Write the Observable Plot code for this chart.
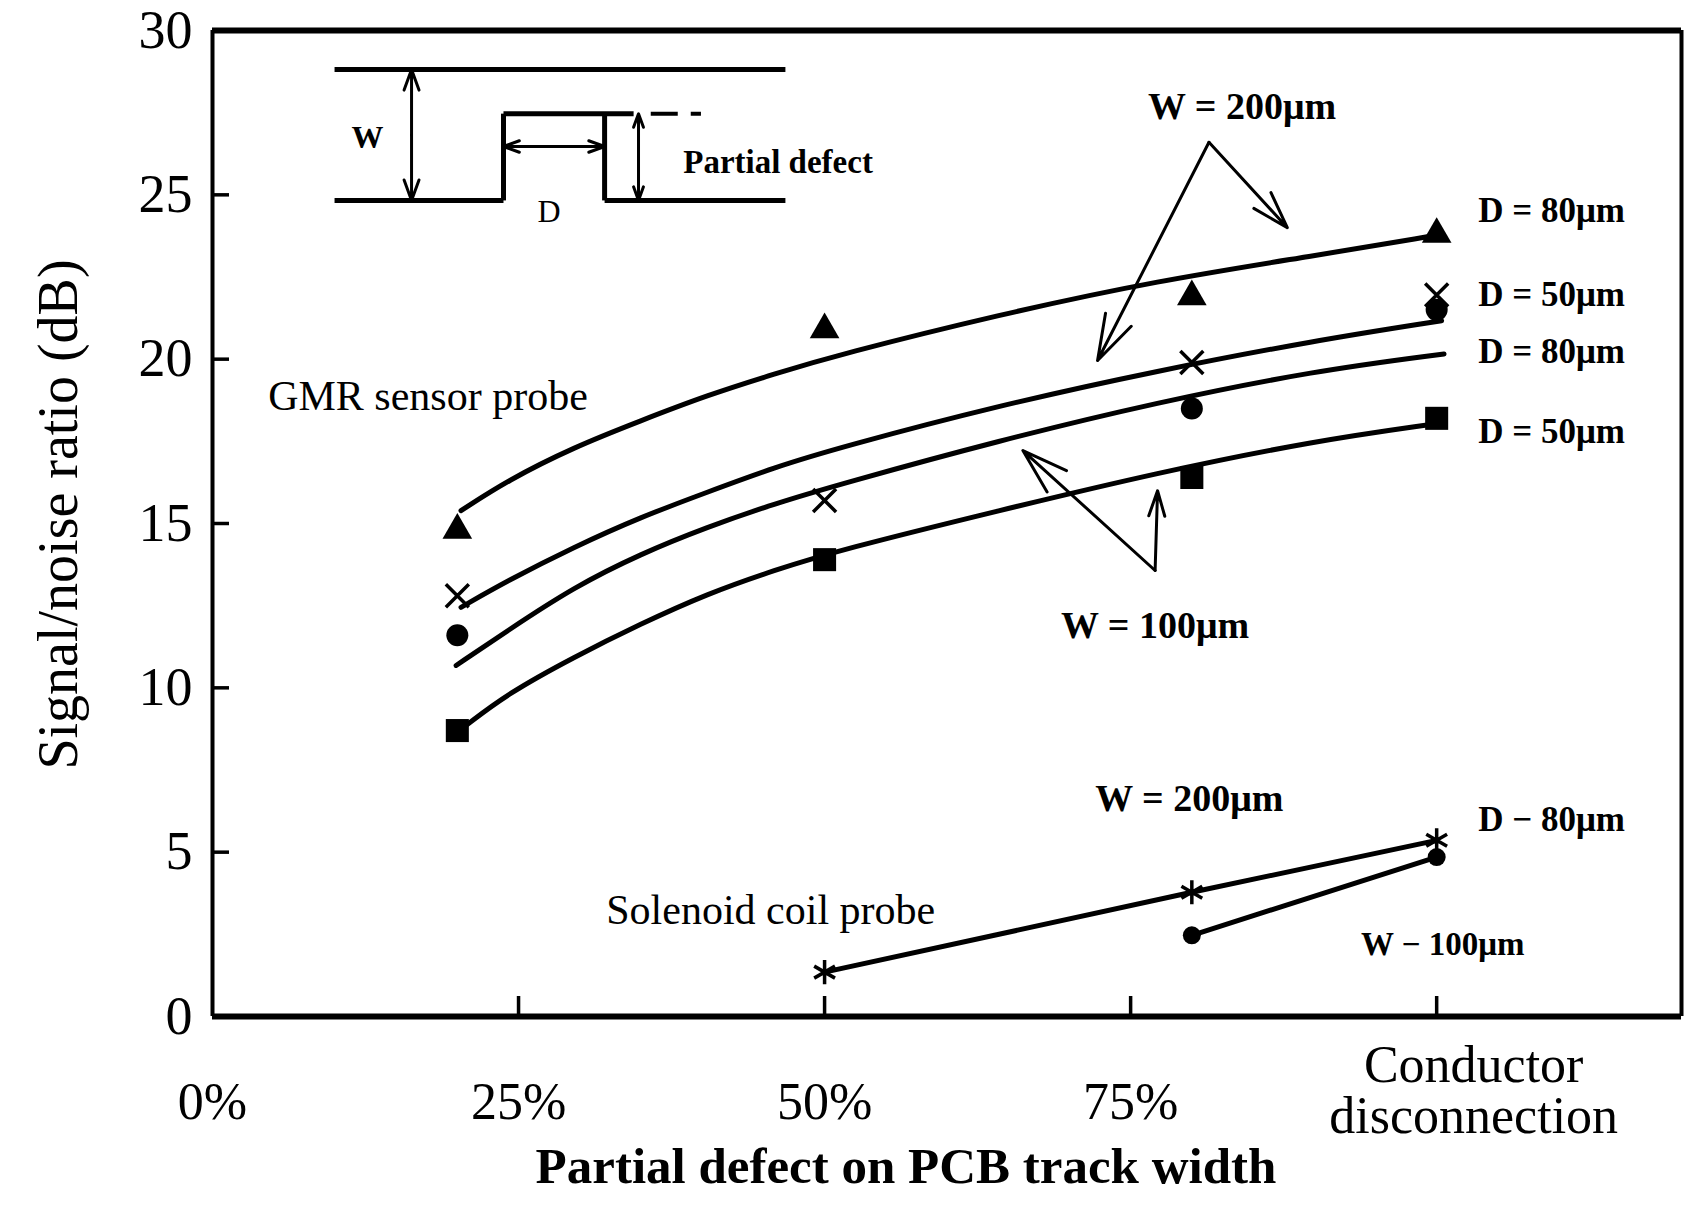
<!DOCTYPE html>
<html>
<head>
<meta charset="utf-8">
<script src="https://cdn.jsdelivr.net/npm/d3@7"></script>
<script src="https://cdn.jsdelivr.net/npm/@observablehq/plot@0.6"></script>
<style>
  html, body { margin: 0; padding: 0; background: #fff; }
  #chart svg { display: block; }
</style>
</head>
<body>
<div id="chart"></div>
<script>
// ---------- measured points (x = partial defect in % of track width, 100 = conductor disconnection) ----------
const gmrW200D80 = [ {x:20,y:14.8},{x:50,y:20.9},{x:80,y:21.9},{x:100,y:23.8} ];   // triangles
const gmrW200D50 = [ {x:20,y:12.8},{x:50,y:15.7},{x:80,y:19.9},{x:100,y:21.95} ];  // crosses
const gmrW100D80 = [ {x:20,y:11.6},{x:80,y:18.5},{x:100,y:21.5} ];                 // filled dots
const gmrW100D50 = [ {x:20,y:8.7},{x:50,y:13.9},{x:80,y:16.4},{x:100,y:18.2} ];    // squares
const coilW200   = [ {x:50,y:1.35},{x:80,y:3.78},{x:100,y:5.36} ];                 // asterisks
const coilW100   = [ {x:80,y:2.47},{x:100,y:4.85} ];                               // dots

// ---------- fitted curves ----------
const fitW200D80 = [[20.3,15.39],[24.1,16.31],[29.5,17.32],[35.0,18.13],[40.4,18.9],[45.9,19.55],[51.3,20.15],[64.2,21.35],[77.2,22.39],[90.1,23.15],[99.8,23.76]];
const fitW200D50 = [[20.3,12.45],[24.1,13.26],[29.5,14.28],[35.0,15.2],[40.4,15.95],[45.9,16.71],[51.3,17.32],[64.2,18.59],[77.2,19.65],[90.1,20.57],[100.4,21.17]];
const fitW100D80 = [[19.9,10.68],[24.1,11.74],[29.5,13.06],[35.0,14.08],[40.4,14.89],[45.9,15.6],[51.3,16.2],[64.2,17.52],[77.2,18.69],[90.1,19.65],[100.6,20.16]];
const fitW100D50 = [[20.7,8.85],[24.1,9.82],[29.5,10.93],[35.0,11.95],[40.4,12.86],[45.9,13.58],[51.3,14.2],[64.2,15.39],[77.2,16.55],[90.1,17.52],[99.8,18.03]];

// ---------- axes ----------
const xDomain = [0, 120];
const yDomain = [0, 30];
const yTickLabels = [0, 5, 10, 15, 20, 25, 30];
const yTickMarks = [5, 10, 15, 20, 25];
const xTickLabels = [0, 25, 50, 75];
const xTickMarks = [25, 50, 75, 100];
const lastCategory = { x: 100, text: "Conductor\ndisconnection" };
const xTitle = "Partial defect on PCB track width";
const yTitle = "Signal/noise ratio (dB)";

// ---------- annotations ----------
const probeLabels = [
  { x: 17.6, y: 18.86, text: "GMR sensor probe" },
  { x: 45.6, y: 3.22, text: "Solenoid coil probe" }
];
const widthLabels = [
  { x: 84.1, y: 27.68, text: "W = 200μm" },
  { x: 77.0, y: 11.9, text: "W = 100μm" },
  { x: 79.8, y: 6.62, text: "W = 200μm" }
];
const smallWidthLabels = [ { x: 100.5, y: 2.2, text: "W − 100μm" } ];
const depthLabels = [
  { x: 103.4, y: 24.52, text: "D = 80μm" },
  { x: 103.4, y: 21.97, text: "D = 50μm" },
  { x: 103.4, y: 20.23, text: "D = 80μm" },
  { x: 103.4, y: 17.8, text: "D = 50μm" },
  { x: 103.4, y: 6.0, text: "D − 80μm" }
];
const pointerArrows = [
  { x1: 81.4, y1: 26.6, x2: 72.3, y2: 19.96 },
  { x1: 81.4, y1: 26.6, x2: 87.8, y2: 24.0 },
  { x1: 77.0, y1: 13.57, x2: 66.2, y2: 17.22 },
  { x1: 77.0, y1: 13.57, x2: 77.2, y2: 16.0 }
];

// ---------- inset sketch of the track with a partial defect ----------
const insetLines = [
  { x1: 9.97, y1: 28.81, x2: 46.8, y2: 28.81 },
  { x1: 9.97, y1: 24.83, x2: 23.77, y2: 24.83 },
  { x1: 23.77, y1: 24.83, x2: 23.77, y2: 27.47 },
  { x1: 23.77, y1: 27.47, x2: 34.4, y2: 27.47 },
  { x1: 32.03, y1: 27.47, x2: 32.03, y2: 24.83 },
  { x1: 32.03, y1: 24.83, x2: 46.8, y2: 24.83 }
];
const insetDashed = [ { x1: 35.8, y1: 27.47, x2: 39.9, y2: 27.47 } ];
const insetArrows = [
  { x1: 16.26, y1: 26.82, x2: 16.26, y2: 28.81 },
  { x1: 16.26, y1: 26.82, x2: 16.26, y2: 24.83 },
  { x1: 27.9, y1: 26.47, x2: 23.77, y2: 26.47 },
  { x1: 27.9, y1: 26.47, x2: 32.03, y2: 26.47 },
  { x1: 34.8, y1: 26.15, x2: 34.8, y2: 27.47 },
  { x1: 34.8, y1: 26.15, x2: 34.8, y2: 24.83 }
];
const insetW = [ { x: 12.66, y: 26.74, text: "W" } ];
const insetD = [ { x: 27.5, y: 24.5, text: "D" } ];
const insetDefect = [ { x: 46.2, y: 25.98, text: "Partial defect" } ];

const pts = a => a.map(([x, y]) => ({ x, y }));
const serif = "'Liberation Serif', 'Times New Roman', serif";

const chart = Plot.plot({
  width: 1692,
  height: 1221,
  marginLeft: 212,
  marginRight: 11,
  marginTop: 30,
  marginBottom: 205,
  x: { domain: xDomain, label: null },
  y: { domain: yDomain, label: null },
  style: { fontFamily: serif, background: "#fff", color: "#000", overflow: "visible" },
  marks: [
    // frame
    Plot.ruleY([yDomain[0]], { strokeWidth: 6 }),
    Plot.ruleY([yDomain[1]], { strokeWidth: 6 }),
    Plot.ruleX([xDomain[0]], { strokeWidth: 4 }),
    Plot.ruleX([xDomain[1]], { strokeWidth: 4 }),

    // axes
    Plot.axisY(yTickLabels, { tickSize: 0, tickPadding: 20, fontSize: 54, label: null }),
    Plot.axisY(yTickMarks, { tickSize: -17, strokeWidth: 3.5, fill: "none", label: null }),
    Plot.axisX(xTickLabels, { tickSize: 0, tickPadding: 86, lineAnchor: "middle", fontSize: 52, tickFormat: d => `${d}%`, label: null }),
    Plot.axisX(xTickMarks, { tickSize: -20, strokeWidth: 3.5, fill: "none", label: null }),
    Plot.text([lastCategory], { x: "x", text: "text", frameAnchor: "bottom", textAnchor: "middle", dx: 37, dy: 75, lineAnchor: "middle", lineHeight: 0.97, fontSize: 52 }),
    Plot.text([xTitle], { text: d => d, frameAnchor: "bottom", textAnchor: "middle", lineAnchor: "middle", dx: -41, dy: 150, fontSize: 51, fontWeight: "bold" }),
    Plot.text([yTitle], { text: d => d, frameAnchor: "left", textAnchor: "middle", lineAnchor: "middle", rotate: -90, dx: -153, dy: -9, fontSize: 56 }),

    // fitted curves (GMR)
    Plot.line(pts(fitW200D80), { x: "x", y: "y", curve: "basis", strokeWidth: 5 }),
    Plot.line(pts(fitW200D50), { x: "x", y: "y", curve: "basis", strokeWidth: 5 }),
    Plot.line(pts(fitW100D80), { x: "x", y: "y", curve: "basis", strokeWidth: 5 }),
    Plot.line(pts(fitW100D50), { x: "x", y: "y", curve: "basis", strokeWidth: 5 }),

    // GMR markers
    Plot.dot(gmrW200D80, { x: "x", y: "y", symbol: "triangle", r: 11, fill: "#000", stroke: "none" }),
    Plot.dot(gmrW200D50, { x: "x", y: "y", symbol: "times", r: 10.5, fill: "none", stroke: "#000", strokeWidth: 3.5 }),
    Plot.dot(gmrW100D80, { x: "x", y: "y", symbol: "circle", r: 11, fill: "#000", stroke: "none" }),
    Plot.dot(gmrW100D50, { x: "x", y: "y", symbol: "square", r: 13, fill: "#000", stroke: "none" }),

    // solenoid coil
    Plot.line(coilW200, { x: "x", y: "y", strokeWidth: 5 }),
    Plot.line(coilW100, { x: "x", y: "y", strokeWidth: 5 }),
    Plot.dot(coilW200, { x: "x", y: "y", symbol: "asterisk", r: 11.4, fill: "none", stroke: "#000", strokeWidth: 3.5 }),
    Plot.dot(coilW100, { x: "x", y: "y", symbol: "circle", r: 9, fill: "#000", stroke: "none" }),

    // annotations
    Plot.text(probeLabels, { x: "x", y: "y", text: "text", fontSize: 42 }),
    Plot.text(widthLabels, { x: "x", y: "y", text: "text", fontSize: 38, fontWeight: "bold" }),
    Plot.text(smallWidthLabels, { x: "x", y: "y", text: "text", fontSize: 33, fontWeight: "bold" }),
    Plot.text(depthLabels, { x: "x", y: "y", text: "text", textAnchor: "start", fontSize: 35, fontWeight: "bold" }),
    Plot.arrow(pointerArrows, { x1: "x1", y1: "y1", x2: "x2", y2: "y2", strokeWidth: 3, headLength: 24, headAngle: 35 }),

    // inset
    Plot.link(insetLines, { x1: "x1", y1: "y1", x2: "x2", y2: "y2", strokeWidth: 5 }),
    Plot.link(insetDashed, { x1: "x1", y1: "y1", x2: "x2", y2: "y2", strokeWidth: 4, strokeDasharray: "27,13" }),
    Plot.arrow(insetArrows, { x1: "x1", y1: "y1", x2: "x2", y2: "y2", strokeWidth: 3, headLength: 20, headAngle: 40 }),
    Plot.text(insetW, { x: "x", y: "y", text: "text", fontSize: 32, fontWeight: "bold" }),
    Plot.text(insetD, { x: "x", y: "y", text: "text", fontSize: 32 }),
    Plot.text(insetDefect, { x: "x", y: "y", text: "text", fontSize: 33, fontWeight: "bold" })
  ]
});

document.getElementById("chart").appendChild(chart);
</script>
</body>
</html>
